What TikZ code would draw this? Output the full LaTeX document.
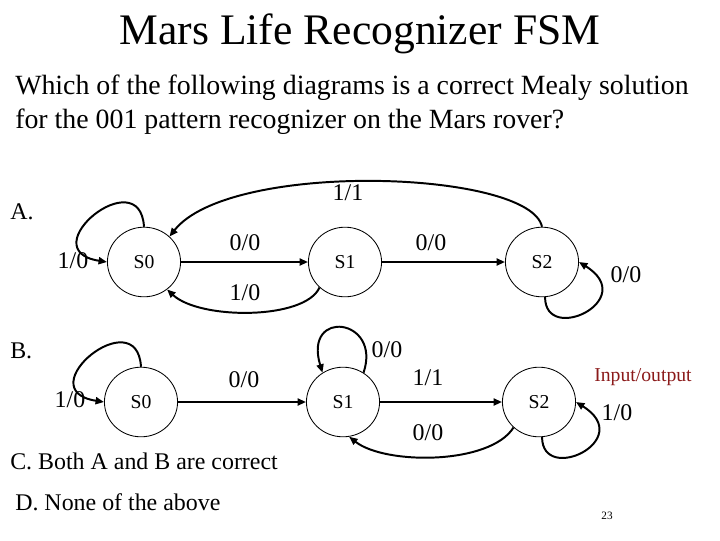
\documentclass[tikz,border=0pt]{standalone}
\usepackage{fontspec}
\setmainfont{Liberation Serif}
\usetikzlibrary{shapes.geometric,arrows.meta}
\definecolor{ioRed}{RGB}{139,26,26}

\begin{document}
\begin{tikzpicture}[
    x=0.025cm, y=-0.025cm,
    state/.style={ellipse, draw=black, line width=0.6pt, fill=white,
        minimum width=52pt, minimum height=49.5pt, inner sep=0pt,
        font=\fontsize{14}{16}\selectfont},
    edge/.style={line width=1.4pt, -{Triangle[length=6pt,width=5pt]}},
    lbl/.style={font=\fontsize{17}{20}\selectfont, inner sep=0pt},
    txt/.style={font=\fontsize{17}{20}\selectfont, anchor=west, inner sep=0pt}
]
    \useasboundingbox (0,0) rectangle (720,540);

    \node[font=\fontsize{31}{36}\selectfont] (title) at (360,34) {Mars Life Recognizer FSM};
    \node[anchor=west, inner sep=0pt, font=\fontsize{19.8}{24}\selectfont] (q1) at (15,88)
        {Which of the following diagrams is a correct Mealy solution};
    \node[anchor=west, inner sep=0pt, font=\fontsize{19.8}{24}\selectfont] (q2) at (15,122)
        {for the 001 pattern recognizer on the Mars rover?};

    \node[txt] (optA) at (10,212) {A.};
    \node[state] (a0) at (144,262) {S0};
    \node[state] (a1) at (345,262) {S1};
    \node[state] (a2) at (542,262) {S2};
    \draw[edge] (a0) -- (a1);
    \draw[edge] (a1) -- (a2);
    \draw[edge] (a1.-135) .. controls (305,320) and (200,320) .. (a0.-50);
    \draw[edge] (a2.north) .. controls (530,170) and (230,160) .. (a0.45);
    \draw[edge] (a0.north) .. controls (140,160) and (30,250) .. (a0.west);
    \draw[edge] (a2.-85) .. controls (545,345) and (640,300) .. (a2.east);
    \node[lbl] (la01) at (245,243) {0/0};
    \node[lbl] (la12) at (431,243) {0/0};
    \node[lbl] (la10) at (245,293) {1/0};
    \node[lbl] (la20) at (348,193) {1/1};
    \node[lbl] (la00) at (73,261) {1/0};
    \node[lbl] (la22) at (626,275) {0/0};

    \node[txt] (optB) at (10,351) {B.};
    \node[state] (b0) at (141,402) {S0};
    \node[state] (b1) at (343,402) {S1};
    \node[state] (b2) at (539,402) {S2};
    \draw[edge] (b0) -- (b1);
    \draw[edge] (b1) -- (b2);
    \draw[edge] (b2.-135) .. controls (490,465) and (385,465) .. (b1.-80);
    \draw[edge] (b0.north) .. controls (137,300) and (27,390) .. (b0.west);
    \draw[edge] (b1.55) .. controls (382,318) and (303,308) .. (b1.125);
    \draw[edge] (b2.-85) .. controls (542,485) and (637,440) .. (b2.east);
    \node[lbl] (lb01) at (244,380) {0/0};
    \node[lbl] (lb00) at (70,400) {1/0};
    \node[lbl] (lb11) at (387,350) {0/0};
    \node[lbl] (lb12) at (428,378) {1/1};
    \node[lbl] (lb21) at (428,433) {0/0};
    \node[lbl] (lb22) at (617,413) {1/0};
    \node[lbl, text=ioRed, font=\fontsize{14}{16}\selectfont] (io) at (643,377) {Input/output};

    \node[txt] (optC) at (10,461) {C. Both A and B are correct};
    \node[txt] (optD) at (15,502) {D. None of the above};
    \node[font=\fontsize{8}{10}\selectfont] (pg) at (607,516) {23};
\end{tikzpicture}
\end{document}
